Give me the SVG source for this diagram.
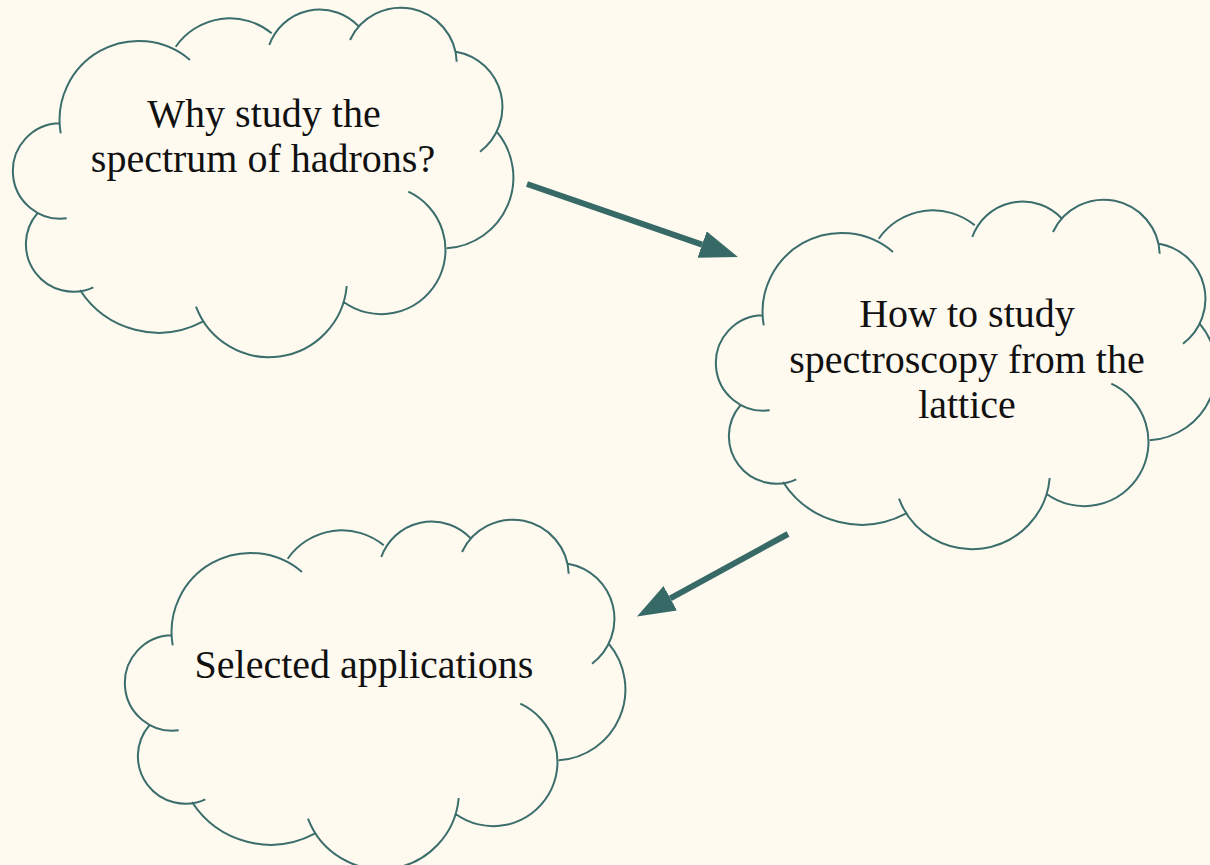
<svg xmlns="http://www.w3.org/2000/svg" xmlns:xlink="http://www.w3.org/1999/xlink" width="1210" height="865" viewBox="0 0 1210 865">
<style>
.cloud{fill:none;stroke:#3a6d6b;stroke-width:2;stroke-linecap:butt}
.lbl{font-family:"Liberation Serif","Times New Roman",serif;font-size:40px;fill:#111;text-anchor:middle}
.conn{stroke:#376a67;stroke-width:6;fill:none}
</style>
<defs>
<path id="cloudShape" class="cloud" d="M60.7,133.3 A79,79 0 0 1 190,60 M175.7,46.7 A66,66 0 0 1 271.7,33.3 M269.3,45 A53.5,53.5 0 0 1 358.3,26 M350,40 A56,56 0 0 1 456.7,61.7 M456,51.7 A56,56 0 0 1 480,151.7 M496.7,131.7 A71,71 0 0 1 446.7,248.3 M408.3,191.7 A64.2,64.2 0 1 1 343.3,301.7 M346.7,286 A78,78 0 0 1 196,306.7 M202.7,321.7 A93.7,93.7 0 0 1 80,290 M93.3,287.3 A47.5,47.5 0 0 1 37.3,213.3 M66.7,218.3 A47.7,47.7 0 1 1 60,123.3"/>
<marker id="head" markerUnits="userSpaceOnUse" markerWidth="38" markerHeight="28" viewBox="0 0 38 28" refX="0" refY="14" orient="auto">
<path d="M0,0 L38,14 L0,28 z" fill="#376a67"/>
</marker>
</defs>
<rect width="1210" height="865" fill="#fffaf0"/>
<g id="connectors">
<line class="conn" x1="527" y1="184" x2="702.1" y2="244.6" marker-end="url(#head)"/>
<line class="conn" x1="788" y1="534" x2="670.3" y2="598.3" marker-end="url(#head)"/>
</g>
<g id="node-why">
<use xlink:href="#cloudShape" href="#cloudShape"/>
<text class="lbl" x="264" y="127">Why study the</text>
<text class="lbl" x="263" y="172">spectrum of hadrons?</text>
</g>
<g id="node-how">
<use xlink:href="#cloudShape" href="#cloudShape" transform="translate(703,192)"/>
<text class="lbl" x="967" y="327">How to study</text>
<text class="lbl" x="967" y="373">spectroscopy from the</text>
<text class="lbl" x="967" y="418">lattice</text>
</g>
<g id="node-apps">
<use xlink:href="#cloudShape" href="#cloudShape" transform="translate(112,512)"/>
<text class="lbl" x="364" y="678">Selected applications</text>
</g>
</svg>
